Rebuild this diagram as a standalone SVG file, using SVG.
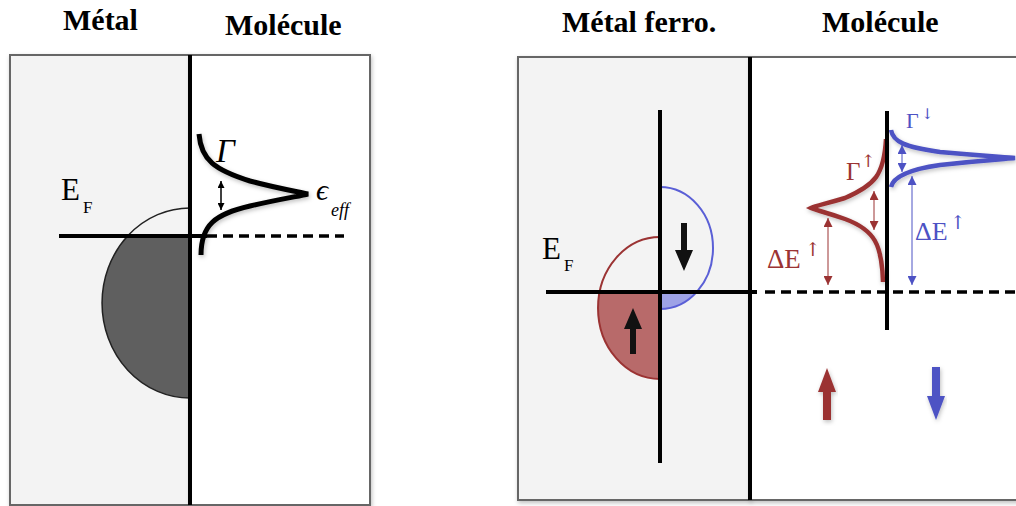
<svg xmlns="http://www.w3.org/2000/svg" width="1016" height="506" viewBox="0 0 1016 506">
<style>
.title{font-family:"Liberation Serif","DejaVu Serif",serif;font-weight:bold;font-size:30px;fill:#000}
.math{font-family:"Liberation Serif","DejaVu Serif",serif;fill:#000}
.sup{font-family:"DejaVu Serif","Liberation Serif",serif}
.box{stroke:#666;stroke-width:2}
.metal{fill:#f3f3f3}
.mol{fill:#fff}
.div{stroke:#000;stroke-width:4}
.ef{stroke:#000;stroke-width:4}
.dash{stroke:#000;stroke-width:3.5;stroke-dasharray:10 6}
.red{fill:#9b3333}
.blue{fill:#4d52c4}
</style>
<defs>
<filter id="sh" x="-10%" y="-10%" width="120%" height="120%">
<feDropShadow dx="1" dy="2" stdDeviation="2" flood-color="#000" flood-opacity="0.25"/>
</filter>
<marker id="mk" viewBox="0 0 10 10" refX="10" refY="5" markerWidth="7" markerHeight="7" markerUnits="userSpaceOnUse" orient="auto-start-reverse"><path d="M0,0 L10,5 L0,10 z" fill="#000"/></marker>
<marker id="mr" viewBox="0 0 10 10" refX="10" refY="5" markerWidth="9" markerHeight="9" markerUnits="userSpaceOnUse" orient="auto-start-reverse"><path d="M0,0 L10,5 L0,10 z" fill="#9b3333"/></marker>
<marker id="mb" viewBox="0 0 10 10" refX="10" refY="5" markerWidth="9" markerHeight="9" markerUnits="userSpaceOnUse" orient="auto-start-reverse"><path d="M0,0 L10,5 L0,10 z" fill="#4d52c4"/></marker>
</defs>

<g id="titles">
<text class="title" x="63" y="30">Métal</text>
<text class="title" x="225" y="35">Molécule</text>
<text class="title" x="562" y="32">Métal ferro.</text>
<text class="title" x="822" y="32">Molécule</text>
</g>

<g id="left-panel">
<rect class="box metal" x="10" y="55" width="180" height="450" filter="url(#sh)"/>
<rect class="box mol" x="190" y="55" width="180" height="450" filter="url(#sh)"/>
<path d="M190,236 L127.6,236 A88,95 0 0 0 190,398 Z" fill="#5f5f5f"/>
<path d="M190,208 A88,95 0 0 0 190,398" fill="none" stroke="#222" stroke-width="1.5"/>
<line class="div" x1="190" y1="55" x2="190" y2="505"/>
<line class="ef" x1="59" y1="236" x2="207" y2="236"/>
<line class="dash" x1="207" y1="236" x2="344" y2="236"/>
<path d="M199,134 C201,160 215,170 250,181 C280,189 300,192 308,194 C300,196 280,199 250,206 C215,214 201,225 201,255" fill="none" stroke="#000" stroke-width="5" filter="url(#sh)"/>
<text class="math" x="61" y="200" font-size="31">E</text>
<text class="math" x="83" y="213" font-size="17">F</text>
<text class="math" x="216" y="162" font-size="33" font-style="italic">Γ</text>
<text class="math" x="316" y="200" font-size="30" font-style="italic">ϵ</text>
<text class="math" x="331" y="216" font-size="18" font-style="italic">eff</text>
</g>

<g id="right-panel">
<rect class="box metal" x="518" y="57" width="232" height="443" filter="url(#sh)"/>
<rect class="box mol" x="750" y="57" width="270" height="443" filter="url(#sh)"/>
<path d="M660,292 L599.6,292 A62,71 0 0 0 660,379 Z" fill="#b86a6a"/>
<path d="M660,237 A62,71 0 0 0 660,379" fill="none" stroke="#9b3333" stroke-width="2"/>
<path d="M660,292 L696.7,292 A53,61 0 0 1 660,309 Z" fill="#9ea2e6"/>
<path d="M660,187 A53,61 0 0 1 660,309" fill="none" stroke="#5a5fd6" stroke-width="2"/>
<line class="div" x1="750" y1="57" x2="750" y2="500"/>
<line class="ef" x1="546" y1="292" x2="757" y2="292"/>
<line class="dash" x1="765" y1="292" x2="1016" y2="292"/>
<line x1="660" y1="110" x2="660" y2="463" stroke="#000" stroke-width="4"/>
<path d="M681,223 L687,223 L687,250 L693,250 L684,271 L675,250 L681,250 Z" fill="#111"/>
<path d="M630,354 L636,354 L636,329 L642,329 L633,308 L624,329 L630,329 Z" fill="#111"/>
<path d="M886,139 C884,175 875,185 845,198 C825,204 815,206 811,208 C815,210 825,212 845,219 C875,230 882,245 883,282" fill="none" stroke="#9b3333" stroke-width="4.5" filter="url(#sh)"/>
<path d="M891,130 C893,142 905,147 940,152 C985,156 1005,157 1015,158 C1005,159 985,160 940,165 C905,170 893,178 891,187" fill="none" stroke="#4d52c4" stroke-width="4.5" filter="url(#sh)"/>
<line x1="887" y1="111" x2="887" y2="330" stroke="#000" stroke-width="4"/>
<text class="math" x="542" y="259" font-size="31">E</text>
<text class="math" x="564" y="271" font-size="17">F</text>
<text class="math red" x="846" y="180" font-size="25">Γ</text>
<text class="sup red" x="861" y="167" font-size="17">↑</text>
<text class="math red" x="767" y="268" font-size="27">ΔE</text>
<text class="sup red" x="805" y="256" font-size="19">↑</text>
<text class="math blue" x="906" y="128" font-size="22">Γ</text>
<text class="sup blue" x="921" y="119" font-size="15">↓</text>
<text class="math blue" x="915" y="240" font-size="26">ΔE</text>
<text class="sup blue" x="950" y="229" font-size="19">↑</text>
<path d="M823,420 L831,420 L831,392 L836,392 L827,368 L818,392 L823,392 Z" fill="#9b3333" filter="url(#sh)"/>
<path d="M932,367 L940,367 L940,396 L945,396 L936,420 L927,396 L932,396 Z" fill="#4d52c4" filter="url(#sh)"/>
</g>

<g id="connectors">
<line x1="221" y1="181" x2="221" y2="210" stroke="#000" stroke-width="1.5" marker-start="url(#mk)" marker-end="url(#mk)"/>
<line x1="874" y1="191" x2="874" y2="230" stroke="#9b3333" stroke-width="1" marker-start="url(#mr)" marker-end="url(#mr)"/>
<line x1="828" y1="218" x2="828" y2="285" stroke="#9b3333" stroke-width="1" marker-start="url(#mr)" marker-end="url(#mr)"/>
<line x1="902" y1="145" x2="902" y2="172" stroke="#4d52c4" stroke-width="1" marker-start="url(#mb)" marker-end="url(#mb)"/>
<line x1="912" y1="176" x2="912" y2="285" stroke="#4d52c4" stroke-width="1" marker-start="url(#mb)" marker-end="url(#mb)"/>
</g>
</svg>
